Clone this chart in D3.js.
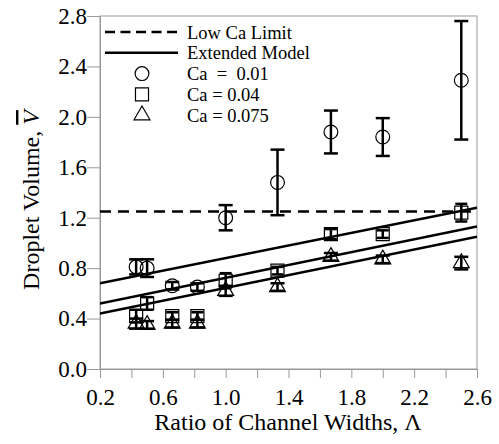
<!DOCTYPE html>
<html>
<head>
<meta charset="utf-8">
<script src="https://cdn.jsdelivr.net/npm/d3@7"></script>
<style>
  body { margin: 0; background: #fff; }
  text { font-family: "Liberation Serif", "Times New Roman", serif; fill: #000; }
</style>
</head>
<body>
<div id="chart"></div>
<script>
// dane
const lambda = [0.43, 0.5, 0.66, 0.82, 1.0, 1.33, 1.67, 2.0, 2.5];
const vCa001 = [0.81, 0.80, 0.66, 0.65, 1.20, 1.48, 1.88, 1.84, 2.29];
const eCa001 = [0.06, 0.07, 0.03, 0.03, 0.10, 0.26, 0.17, 0.15, 0.47];
const vCa004 = [0.42, 0.52, 0.42, 0.42, 0.70, 0.78, 1.07, 1.07, 1.24];
const eCa004 = [0.05, 0.05, 0.03, 0.03, 0.06, 0.03, 0.04, 0.03, 0.07];
const vCa0075 = [0.36, 0.35, 0.36, 0.36, 0.62, 0.65, 0.89, 0.87, 0.84];
const eCa0075 = [0.04, 0.03, 0.03, 0.03, 0.04, 0.03, 0.03, 0.03, 0.05];

// linie modelu (wartosci na koncach zakresu)
const modelLambda = [0.2, 2.6];
const lowCaLimit = [1.25, 1.25];
const modelCa001 = [0.68, 1.28];
const modelCa004 = [0.52, 1.13];
const modelCa0075 = [0.44, 1.05];

const xTicks = [0.2, 0.4, 0.6, 0.8, 1.0, 1.2, 1.4, 1.6, 1.8, 2.0, 2.2, 2.4, 2.6];
const xTickLabels = ["0.2", "0.6", "1.0", "1.4", "1.8", "2.2", "2.6"];
const yTicks = [0.0, 0.4, 0.8, 1.2, 1.6, 2.0, 2.4, 2.8];

const legendLabels = ["Low Ca Limit", "Extended Model", "Ca  =  0.01", "Ca = 0.04", "Ca = 0.075"];

const width = 499;
const height = 444;

const svg = d3.select("#chart")
  .append("svg")
  .attr("width", width)
  .attr("height", height);

const x = d3.scaleLinear().domain([0.2, 2.6]).range([100, 477]);
const y = d3.scaleLinear().domain([0, 2.8]).range([369, 16]);

svg.append("clipPath").attr("id", "plot")
  .append("rect")
  .attr("x", x(0.2)).attr("y", y(2.8))
  .attr("width", x(2.6) - x(0.2)).attr("height", y(0) - y(2.8));

// ramka
svg.append("rect")
  .attr("x", x(0.2)).attr("y", y(2.8))
  .attr("width", x(2.6) - x(0.2)).attr("height", y(0) - y(2.8))
  .attr("fill", "none").attr("stroke", "#999").attr("stroke-width", 1);

// osie
const xAxis = svg.append("g")
  .attr("transform", `translate(0,${y(0)})`)
  .call(d3.axisBottom(x).tickValues(xTicks).tickSizeInner(9).tickSizeOuter(0).tickPadding(11)
    .tickFormat(d => {
      const s = d3.format(".1f")(d);
      return xTickLabels.includes(s) ? s : "";
    }));
xAxis.selectAll(".tick text").filter(function () { return this.textContent === ""; }).remove();

const yAxis = svg.append("g")
  .attr("transform", `translate(${x(0.2)},0)`)
  .call(d3.axisLeft(y).tickValues(yTicks).tickSizeInner(13).tickSizeOuter(0).tickPadding(0)
    .tickFormat(d3.format(".1f")));

[xAxis, yAxis].forEach(a => {
  a.attr("font-size", null).attr("font-family", null);
  a.select(".domain").attr("stroke", "#999");
  a.selectAll(".tick line").attr("stroke", "#999");
  a.selectAll(".tick text")
    .style("font-size", "23px")
    .attr("fill", "#000");
});

// tytuly osi
svg.append("text")
  .attr("x", 288).attr("y", 430)
  .attr("text-anchor", "middle")
  .style("font-size", "24px")
  .text("Ratio of Channel Widths, \u039B");

const yTitle = svg.append("text")
  .attr("transform", "translate(39,200) rotate(-90)")
  .attr("text-anchor", "middle")
  .style("font-size", "24px");
yTitle.append("tspan").text("Droplet Volume, ");
yTitle.append("tspan")
  .style("font-style", "italic")
  .style("text-decoration", "overline")
  .text("V");

// linie
const plot = svg.append("g").attr("clip-path", "url(#plot)");
const line = d3.line().x((d, i) => x(modelLambda[i])).y(d => y(d));

plot.append("path").datum(lowCaLimit)
  .attr("d", line).attr("fill", "none")
  .attr("stroke", "#000").attr("stroke-width", 2.5).attr("stroke-dasharray", "11,7");

[modelCa001, modelCa004, modelCa0075].forEach(m => {
  plot.append("path").datum(m)
    .attr("d", line).attr("fill", "none")
    .attr("stroke", "#000").attr("stroke-width", 2.5);
});

// serie pomiarowe
const series = [
  { v: vCa001, e: eCa001, sym: d3.symbolCircle, size: 150, cap: 7 },
  { v: vCa004, e: eCa004, sym: d3.symbolSquare, size: 170, cap: 6 },
  { v: vCa0075, e: eCa0075, sym: d3.symbolTriangle, size: 110, cap: 7 }
];

series.forEach(s => {
  const pts = lambda.map((l, i) => ({ l: l, v: s.v[i], e: s.e[i] }));
  const g = svg.append("g");
  g.selectAll("path.m")
    .data(pts)
    .join("path")
    .attr("class", "m")
    .attr("transform", d => `translate(${x(d.l)},${y(d.v)})`)
    .attr("d", d3.symbol().type(s.sym).size(s.size))
    .attr("fill", "none").attr("stroke", "#000").attr("stroke-width", 1.2);

  const eb = g.selectAll("g.eb").data(pts).join("g").attr("class", "eb")
    .attr("stroke", "#000").attr("stroke-width", 2.5);
  eb.append("line")
    .attr("x1", d => x(d.l)).attr("x2", d => x(d.l))
    .attr("y1", d => y(d.v - d.e)).attr("y2", d => y(d.v + d.e));
  eb.append("line")
    .attr("x1", d => x(d.l) - s.cap).attr("x2", d => x(d.l) + s.cap)
    .attr("y1", d => y(d.v + d.e)).attr("y2", d => y(d.v + d.e));
  eb.append("line")
    .attr("x1", d => x(d.l) - s.cap).attr("x2", d => x(d.l) + s.cap)
    .attr("y1", d => y(d.v - d.e)).attr("y2", d => y(d.v - d.e));
});

// legenda
const legend = svg.append("g");
const rowY = i => 32 + i * 20.8;
legend.append("line")
  .attr("x1", 105).attr("x2", 178).attr("y1", rowY(0)).attr("y2", rowY(0))
  .attr("stroke", "#000").attr("stroke-width", 2.5).attr("stroke-dasharray", "10,5.5");
legend.append("line")
  .attr("x1", 105).attr("x2", 178).attr("y1", rowY(1)).attr("y2", rowY(1))
  .attr("stroke", "#000").attr("stroke-width", 2.5);
series.forEach((s, i) => {
  legend.append("path")
    .attr("transform", `translate(142,${rowY(i + 2)})`)
    .attr("d", d3.symbol().type(s.sym).size(s.size))
    .attr("fill", "none").attr("stroke", "#000").attr("stroke-width", 1.2);
});
legend.selectAll("text.lg")
  .data(legendLabels)
  .join("text")
  .attr("class", "lg")
  .attr("x", 187)
  .attr("y", (d, i) => rowY(i) + 6.5)
  .style("font-size", "18.5px")
  .style("white-space", "pre")
  .attr("xml:space", "preserve")
  .text(d => d);
</script>
</body>
</html>
